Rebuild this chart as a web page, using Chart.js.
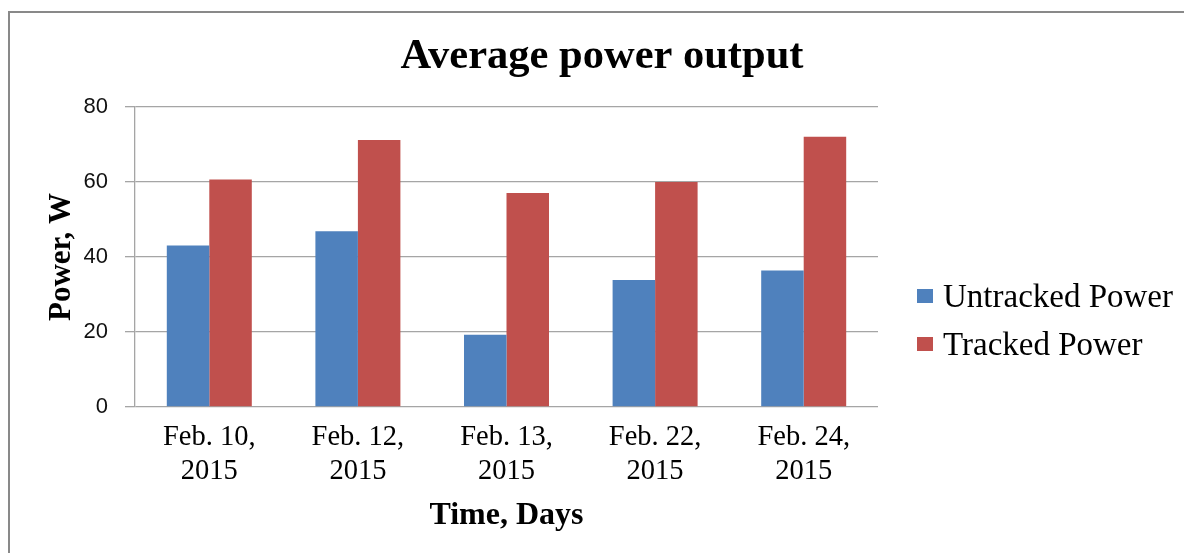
<!DOCTYPE html>
<html>
<head>
<meta charset="utf-8">
<script src="https://cdn.jsdelivr.net/npm/chart.js@4.4.1/dist/chart.umd.min.js"></script>
<style>
  html, body { margin: 0; padding: 0; background: #fff; overflow: hidden; }
  #wrap { position: relative; width: 1184px; height: 553px; }
  #frame { position: absolute; left: 8px; top: 11px; width: 1300px; height: 700px;
           border-left: 2px solid #898989; border-top: 2px solid #898989; }
  #chart-box { position: absolute; left: 0; top: 0; width: 1184px; height: 553px; }
  #legend { position: absolute; left: 917px; top: 272px; font-family: 'Liberation Serif', serif;
            font-size: 33px; color: #000; }
  .legend-item { display: flex; align-items: center; height: 48px; }
  .legend-swatch { width: 16px; height: 14px; margin-right: 10px; }
</style>
</head>
<body>
<div id="wrap">
  <div id="frame"></div>
  <div id="chart-box"><canvas id="power-chart"></canvas></div>
  <div id="legend"></div>
</div>
<script>
const categories = [
  ['Feb. 10,', '2015'],
  ['Feb. 12,', '2015'],
  ['Feb. 13,', '2015'],
  ['Feb. 22,', '2015'],
  ['Feb. 24,', '2015']
];
const seriesNames = ['Untracked Power', 'Tracked Power'];
const untrackedPower = [43.1, 46.9, 19.3, 33.9, 36.4];
const trackedPower = [60.7, 71.2, 57.1, 60.0, 72.1];
const yTicks = [0, 20, 40, 60, 80];

const colors = ['#4F81BD', '#C0504D'];
const gridColor = '#A5A5A5';
const serif = "'Liberation Serif', 'Times New Roman', serif";

const ctx = document.getElementById('power-chart');
const chart = new Chart(ctx, {
  type: 'bar',
  data: {
    labels: categories,
    datasets: [
      { label: seriesNames[0], data: untrackedPower, backgroundColor: colors[0] },
      { label: seriesNames[1], data: trackedPower, backgroundColor: colors[1] }
    ]
  },
  options: {
    responsive: true, maintainAspectRatio: false,
    animation: false,
    layout: { padding: { left: 20, top: 0, right: 0, bottom: 0 } },
    datasets: { bar: { categoryPercentage: 0.572, barPercentage: 1.0 } },
    plugins: {
      legend: { display: false },
      tooltip: { enabled: false },
      title: {
        display: true,
        text: 'Average power output',
        color: '#000',
        font: { family: serif, size: 42.5, weight: 'bold', lineHeight: 1.2 },
        padding: { top: 32, bottom: 24 }
      }
    },
    scales: {
      x: {
        grid: { display: false, drawTicks: false },
        border: { display: false },
        ticks: { color: '#000', padding: 14, font: { family: serif, size: 28.5, lineHeight: 1.18 } },
        title: {
          display: true, text: 'Time, Days', color: '#000',
          font: { family: serif, size: 32, weight: 'bold', lineHeight: 1.2 },
          padding: { top: 0, bottom: 18 }
        },
        afterFit: s => { s.height = 146; }
      },
      y: {
        min: 0, max: 80,
        afterBuildTicks: s => { s.ticks = yTicks.map(v => ({ value: v })); },
        grid: { color: gridColor, lineWidth: 1.3, tickLength: 10, drawTicks: true },
        border: { display: true, color: gridColor, width: 1.3 },
        ticks: { color: '#111', padding: 17, font: { family: "'Liberation Sans', Arial, sans-serif", size: 22 } },
        title: {
          display: true, text: 'Power, W', color: '#000',
          font: { family: serif, size: 31, weight: 'bold', lineHeight: 1.2 },
          padding: { top: 23, bottom: 0 }
        },
        afterFit: s => { s.width = 115; }
      },
      legendSpace: {
        type: 'linear', position: 'right', display: true,
        grid: { display: false, drawTicks: false },
        border: { display: false },
        ticks: { display: false },
        afterFit: s => { s.width = 306; }
      }
    }
  }
});

// legend drawn beside the chart, built from the same series
const legendEl = document.getElementById('legend');
chart.data.datasets.forEach(ds => {
  legendEl.innerHTML += `<div class="legend-item">
    <span class="legend-swatch" style="background:${ds.backgroundColor}"></span>
    <span>${ds.label}</span>
  </div>`;
});
</script>
</body>
</html>
